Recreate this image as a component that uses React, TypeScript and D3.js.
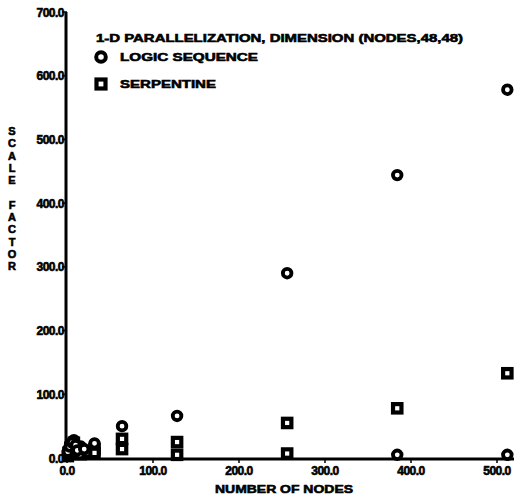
import React from "react";
import * as d3 from "d3";

const W = 516;
const H = 499;

const xTicks = [0, 100, 200, 300, 400, 500];
const yTicks = [0, 100, 200, 300, 400, 500, 600, 700];

const nodes = [2, 4, 8, 16, 32, 64, 128, 256, 384, 512];
const logicSeq = [14, 22, 28, 18, 23, 50, 66, 290, 444, 578];
const serpentine = [8, 16, 24, 12, 14, 30, 25, 55, 78, 133];

const lowNodesSq = [1, 2, 4, 6, 8, 12, 16, 24, 32, 64, 128, 256];
const lowSq = [3, 8, 12, 18, 14, 10, 6, 9, 8, 14, 5, 7];
const lowNodesCi = [1, 3, 6, 10, 12, 20, 384, 512];
const lowCi = [10, 18, 24, 20, 12, 14, 5, 5];

const title = "1-D PARALLELIZATION, DIMENSION (NODES,48,48)";
const legendItems = ["LOGIC SEQUENCE", "SERPENTINE"];
const yLabelLetters = ["S", "C", "A", "L", "E", "", "F", "A", "C", "T", "O", "R"];
const xLabel = "NUMBER OF NODES";

const FONT = "'Liberation Sans', Arial, sans-serif";

export default function App() {
  const x = d3.scaleLinear().domain([0, 500]).range([67, 497]);
  const y = d3.scaleLinear().domain([0, 700]).range([458, 12]);

  const Circle = ({ cx, cy, r = 4.3, sw = 3.8 }: any) => (
    <circle cx={cx} cy={cy} r={r} fill="#fff" stroke="#000" strokeWidth={sw} />
  );
  const Square = ({ cx, cy, s = 4.2, sw = 4.2 }: any) => (
    <rect x={cx - s} y={cy - s} width={2 * s} height={2 * s} fill="#fff" stroke="#000" strokeWidth={sw} />
  );

  const txt = { fill: "#000", stroke: "#000", strokeWidth: 0.6 } as any;

  return (
    <svg
      width={W}
      height={H}
      style={{ position: "absolute", left: 0, top: 0, background: "#fff" }}
      fontFamily={FONT}
      fontWeight="bold"
    >
      <rect width={W} height={H} fill="#fff" />
      {/* axes */}
      <line x1={x(0) - 1} x2={x(0) - 1} y1={y(700)} y2={y(0) + 1} stroke="#000" strokeWidth={3} />
      <line x1={x(0) - 1} x2={514} y1={y(0) + 1} y2={y(0) + 1} stroke="#000" strokeWidth={3} />
      {yTicks.map((t) => (
        <g key={"y" + t}>
          <line x1={x(0) - 5} x2={x(0)} y1={y(t)} y2={y(t)} stroke="#000" strokeWidth={1.5} />
          <text x={x(0) - 3} y={y(t) + 4.5} textAnchor="end" fontSize={12} letterSpacing={-0.5} {...txt}>
            {t.toFixed(1)}
          </text>
        </g>
      ))}
      {xTicks.map((t) => (
        <g key={"x" + t}>
          <line x1={x(t)} x2={x(t)} y1={y(0)} y2={y(0) + 5} stroke="#000" strokeWidth={1.5} />
          <text x={x(t)} y={y(0) + 17} textAnchor="middle" fontSize={12} letterSpacing={-0.5} {...txt}>
            {t.toFixed(1)}
          </text>
        </g>
      ))}
      {/* axis labels */}
      <text x={284} y={493} textAnchor="middle" fontSize={11.5} textLength={138} lengthAdjust="spacingAndGlyphs" {...txt}>
        {xLabel}
      </text>
      {yLabelLetters.map((l, i) => (
        <text key={"yl" + i} x={12} y={135 + i * 12.3} textAnchor="middle" fontSize={11} {...txt}>
          {l}
        </text>
      ))}
      {/* legend */}
      <text x={96} y={42} fontSize={11.5} textLength={367} lengthAdjust="spacingAndGlyphs" {...txt}>
        {title}
      </text>
      <Circle cx={101} cy={57} r={4.8} sw={4} />
      <text x={120} y={61} fontSize={11.5} textLength={138} lengthAdjust="spacingAndGlyphs" {...txt}>
        {legendItems[0]}
      </text>
      <Square cx={101} cy={84} s={4.5} sw={4.2} />
      <text x={120} y={88} fontSize={11.5} textLength={96} lengthAdjust="spacingAndGlyphs" {...txt}>
        {legendItems[1]}
      </text>
      {/* data */}
      {nodes.map((n, i) => (
        <Square key={"s" + i} cx={x(n)} cy={y(serpentine[i])} />
      ))}
      {lowNodesSq.map((n, i) => (
        <Square key={"ls" + i} cx={x(n)} cy={y(lowSq[i])} />
      ))}
      {nodes.map((n, i) => (
        <Circle key={"c" + i} cx={x(n)} cy={y(logicSeq[i])} />
      ))}
      {lowNodesCi.map((n, i) => (
        <Circle key={"lc" + i} cx={x(n)} cy={y(lowCi[i])} />
      ))}
    </svg>
  );
}
